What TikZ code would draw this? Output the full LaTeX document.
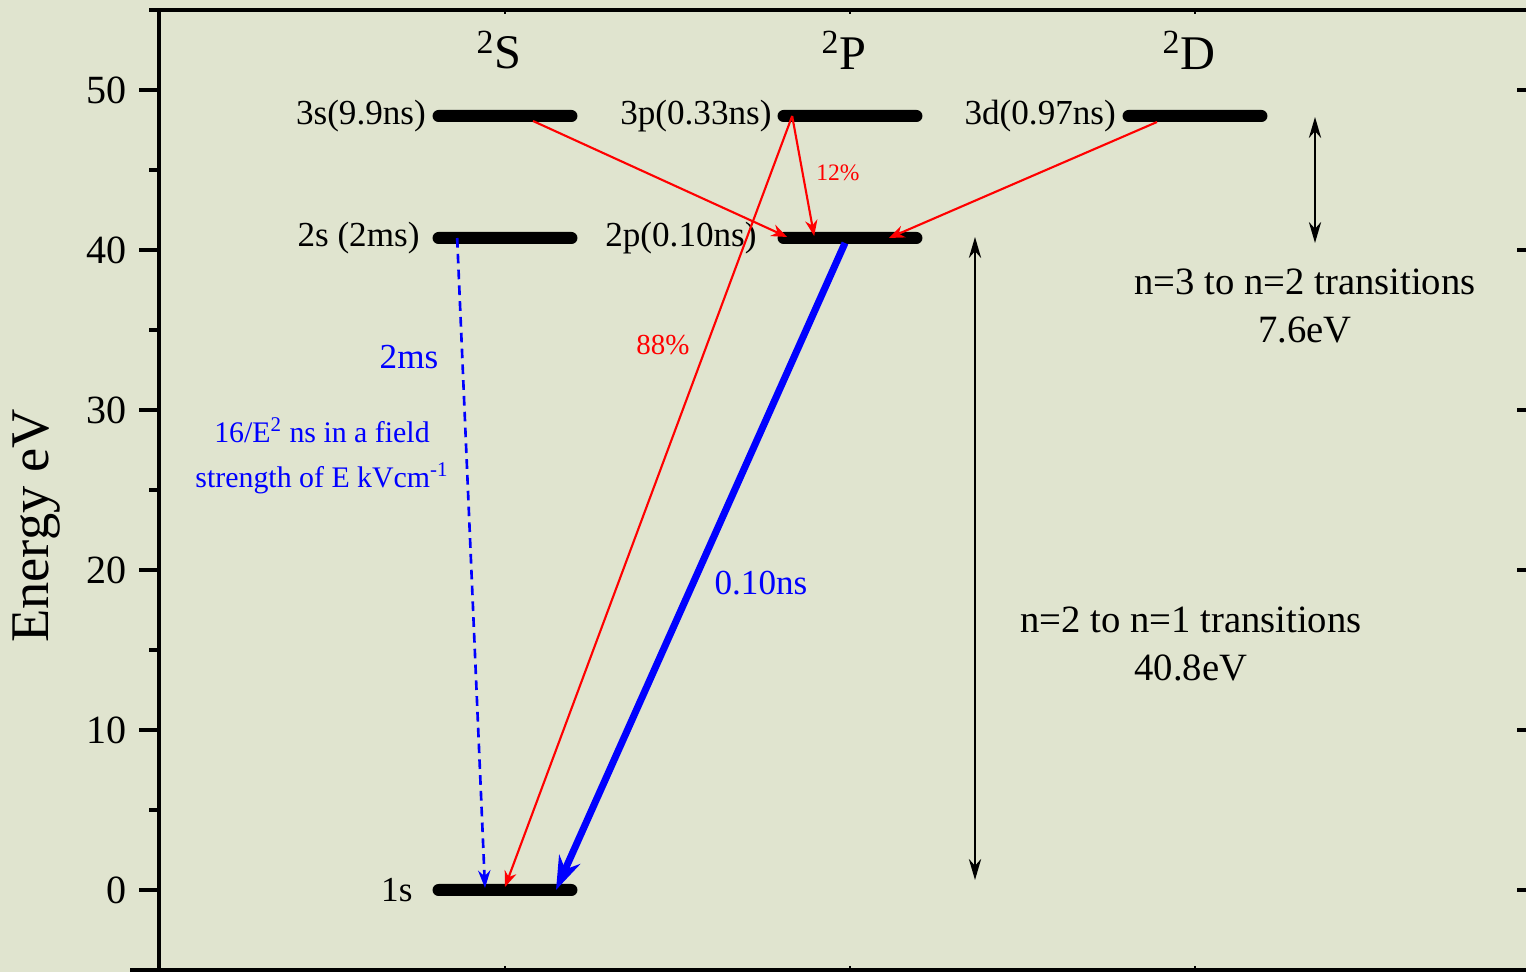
\documentclass[tikz,border=0pt]{standalone}
\usepackage{fontspec}
\setmainfont{Liberation Serif}
\usetikzlibrary{arrows.meta,positioning,calc}
\definecolor{sage}{RGB}{224,228,207}
\definecolor{decayred}{RGB}{255,0,0}
\definecolor{decayblue}{RGB}{0,0,255}
\newcommand{\fsz}[2]{\fontsize{#1}{#2}\selectfont}

\begin{document}
\begin{tikzpicture}[x=0.02cm, y=-0.02cm,
      level/.style={fill=black, rounded corners=0.12cm, minimum width=2.9cm,
                    minimum height=0.24cm, inner sep=0pt},
      lvllabel/.style={inner sep=0pt, font=\fsz{20pt}{24pt}},
      term/.style={inner sep=0pt, font=\fsz{27.5pt}{32pt}},
      ticklabel/.style={anchor=east, inner sep=0pt, font=\fsz{22.8pt}{26pt}},
      decay/.style={-{Stealth[length=9pt,width=7pt]}, decayred, line width=1.2pt},
      fast/.style={-{Stealth[length=19pt,width=13pt]}, decayblue, line width=4pt},
      slow/.style={-{Stealth[length=10pt,width=7pt]}, decayblue, line width=1.5pt,
                   dash pattern=on 5.5pt off 3.5pt},
      gap/.style={{Stealth[length=12pt,width=7pt]}-{Stealth[length=12pt,width=7pt]},
                  black, line width=1.1pt},
      note/.style={align=center, inner sep=0pt, font=\fsz{22pt}{27.5pt}}]
    \useasboundingbox[fill=sage] (0,0) rectangle (1526,972);
    % frame and ticks
    \draw[line width=2.2pt] (159,10) -- (159,972);
    \draw[line width=1.8pt] (149,10) -- (1526,10);
    \draw[line width=1.8pt] (130,970) -- (1526,970);
    \foreach \e in {0,10,...,50}{
      \draw[line width=2pt] (139,{890-16*\e}) -- (159,{890-16*\e});
      \draw[line width=2pt] (1517,{890-16*\e}) -- (1526,{890-16*\e});
      \node[ticklabel] (tk\e) at (127,{890-16*\e}) {\e};
    }
    \foreach \e in {5,15,...,45}
      \draw[line width=2pt] (149,{890-16*\e}) -- (159,{890-16*\e});
    \foreach \x in {505,850,1195}{
      \draw[line width=1.2pt] (\x,10) -- (\x,14);
      \draw[line width=1.2pt] (\x,966) -- (\x,970);
    }
    \node[rotate=90, inner sep=0pt, font=\fsz{31pt}{36pt}] (ylab) at (37,526) {Energy eV};
    % term symbols
    \node[term] (tS) at (499,50) {\textsuperscript{2}S};
    \node[term] (tP) at (844,50) {\textsuperscript{2}P};
    \node[term] (tD) at (1189,50) {\textsuperscript{2}D};
    % levels
    \node[level] (l3s) at (505,116) {};
    \node[level] (l2s) at (505,238) {};
    \node[level] (l1s) at (505,890) {};
    \node[level] (l3p) at (850,116) {};
    \node[level] (l2p) at (850,238) {};
    \node[level] (l3d) at (1195,116) {};
    \node[lvllabel, left=3.4pt of l3s] (n3s) {3s(9.9ns)};
    \node[lvllabel, left=7pt of l2s] (n2s) {2s (2ms)};
    \node[lvllabel, left=11pt of l1s] (n1s) {1s};
    \node[lvllabel, left=3pt of l3p] (n3p) {3p(0.33ns)};
    \node[lvllabel, left=11.5pt of l2p] (n2p) {2p(0.10ns)};
    \node[lvllabel, left=3.4pt of l3d] (n3d) {3d(0.97ns)};
    % radiative decays
    \draw[decay] ($(l3s.center)+(28,5)$) -- ($(l2p.west)+(10,-1)$);
    \draw[decay] ($(l3p.west)+(15,0)$) -- ($(l1s.center)+(0,-3)$);
    \draw[decay] ($(l3p.west)+(15,0)$) -- ($(l2p.west)+(37,-2)$);
    \draw[decay] ($(l3d.center)+(-38,6)$) -- ($(l2p.east)+(-34,0)$);
    \draw[slow] ($(l2s.west)+(25,0)$) -- ($(l1s.center)+(-20,-2)$);
    \draw[fast] ($(l2p.center)+(-5,5)$) -- ($(l1s.center)+(51,0)$);
    % decay labels
    \node[text=decayred, inner sep=0pt, font=\fsz{13.4pt}{16pt}] (p12) at (838,173) {12\%};
    \node[text=decayred, inner sep=0pt, font=\fsz{16.5pt}{20pt}] (p88) at (663,345) {88\%};
    \node[text=decayblue, inner sep=0pt, font=\fsz{20pt}{24pt}] (t2p) at (761,583) {0.10ns};
    \node[text=decayblue, inner sep=0pt, font=\fsz{20pt}{24pt}] (t2s) at (409,357) {2ms};
    \node[text=decayblue, align=center, inner sep=0pt, font=\fsz{17pt}{25.6pt}] (tfield) at (322,456)
      {16/E\textsuperscript{2} ns in a field\\strength of E kVcm\textsuperscript{-1}};
    % transition energies
    \coordinate (g32a) at (1315,117);
    \coordinate (g32b) at (1315,243);
    \coordinate (g21a) at (975,237);
    \coordinate (g21b) at (975,880);
    \draw[gap] (g32a) -- (g32b);
    \draw[gap] (g21a) -- (g21b);
    \node[note] (e32) at (1305,306) {n=3 to n=2 transitions\\7.6eV};
    \node[note] (e21) at (1191,644) {n=2 to n=1 transitions\\40.8eV};
  \end{tikzpicture}
\end{document}
